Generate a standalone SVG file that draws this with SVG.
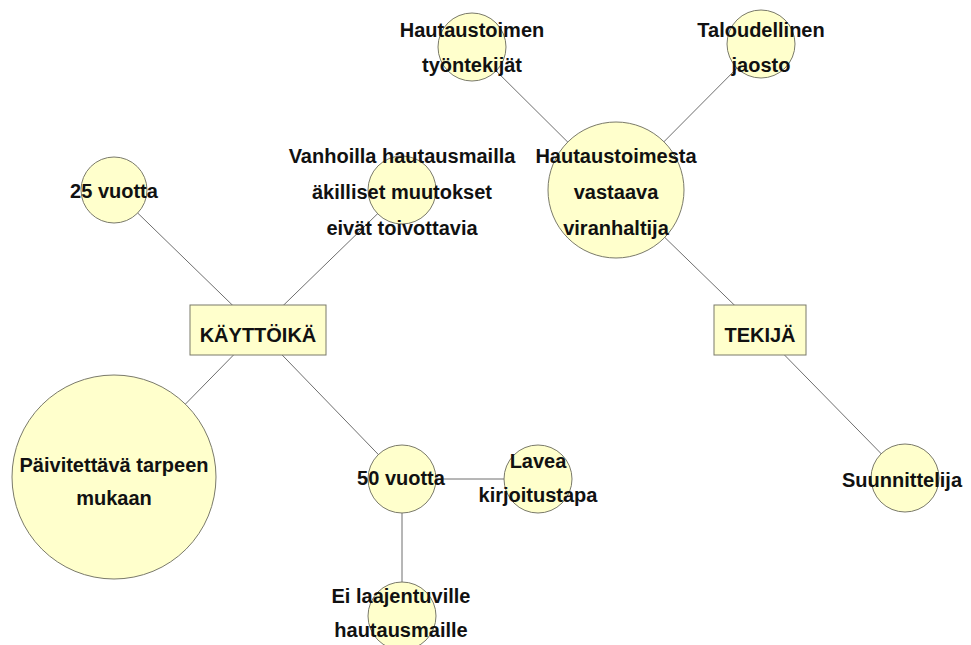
<svg xmlns="http://www.w3.org/2000/svg" width="971" height="645" viewBox="0 0 971 645">
<style>
.n{fill:#ffffcc;stroke:#7a7a6a;stroke-width:1}
.e line{stroke:#6e6e6e;stroke-width:1}
text{font-family:"Liberation Sans",Arial,sans-serif;font-size:20px;font-weight:bold;fill:#111;text-anchor:middle}
</style>
<rect width="971" height="645" fill="#ffffff"/>
<g id="connectors" class="e">
<line x1="114" y1="190" x2="258" y2="330"/>
<line x1="402" y1="190" x2="258" y2="330"/>
<line x1="258" y1="330" x2="114" y2="477"/>
<line x1="258" y1="330" x2="402" y2="479"/>
<line x1="402" y1="479" x2="538" y2="479"/>
<line x1="402" y1="479" x2="402" y2="616"/>
<line x1="472" y1="47" x2="616" y2="190"/>
<line x1="761" y1="44" x2="616" y2="190"/>
<line x1="616" y1="190" x2="760" y2="330"/>
<line x1="760" y1="330" x2="905" y2="478"/>
</g>
<g id="n_kayttoika"><rect class="n" x="190" y="305" width="136" height="50"/><text x="258" y="342">KÄYTTÖIKÄ</text></g>
<g id="n_tekija"><rect class="n" x="714" y="305" width="92" height="50"/><text x="760" y="342">TEKIJÄ</text></g>
<g id="n_25"><circle class="n" cx="114" cy="190" r="33"/><text x="114" y="198">25 vuotta</text></g>
<g id="n_vanhoilla"><circle class="n" cx="402" cy="190" r="34"/><text x="402" y="163">Vanhoilla hautausmailla</text><text x="402" y="199">äkilliset muutokset</text><text x="402" y="235">eivät toivottavia</text></g>
<g id="n_paivitettava"><circle class="n" cx="114" cy="477" r="102"/><text x="114" y="472">Päivitettävä tarpeen</text><text x="114" y="505">mukaan</text></g>
<g id="n_50"><circle class="n" cx="402" cy="479" r="34"/><text x="401" y="485">50 vuotta</text></g>
<g id="n_lavea"><circle class="n" cx="538" cy="479" r="34"/><text x="538" y="468">Lavea</text><text x="538" y="502">kirjoitustapa</text></g>
<g id="n_ei"><circle class="n" cx="402" cy="616" r="34"/><text x="401" y="603">Ei laajentuville</text><text x="401" y="637">hautausmaille</text></g>
<g id="n_tyontekijat"><circle class="n" cx="472" cy="47" r="34"/><text x="472" y="37">Hautaustoimen</text><text x="472" y="72">työntekijät</text></g>
<g id="n_taloudellinen"><circle class="n" cx="761" cy="44" r="34"/><text x="761" y="37">Taloudellinen</text><text x="761" y="72">jaosto</text></g>
<g id="n_viranhaltija"><circle class="n" cx="616" cy="190" r="68"/><text x="616" y="163">Hautaustoimesta</text><text x="616" y="199">vastaava</text><text x="616" y="235">viranhaltija</text></g>
<g id="n_suunnittelija"><circle class="n" cx="905" cy="478" r="34"/><text x="902" y="487">Suunnittelija</text></g>
</svg>
